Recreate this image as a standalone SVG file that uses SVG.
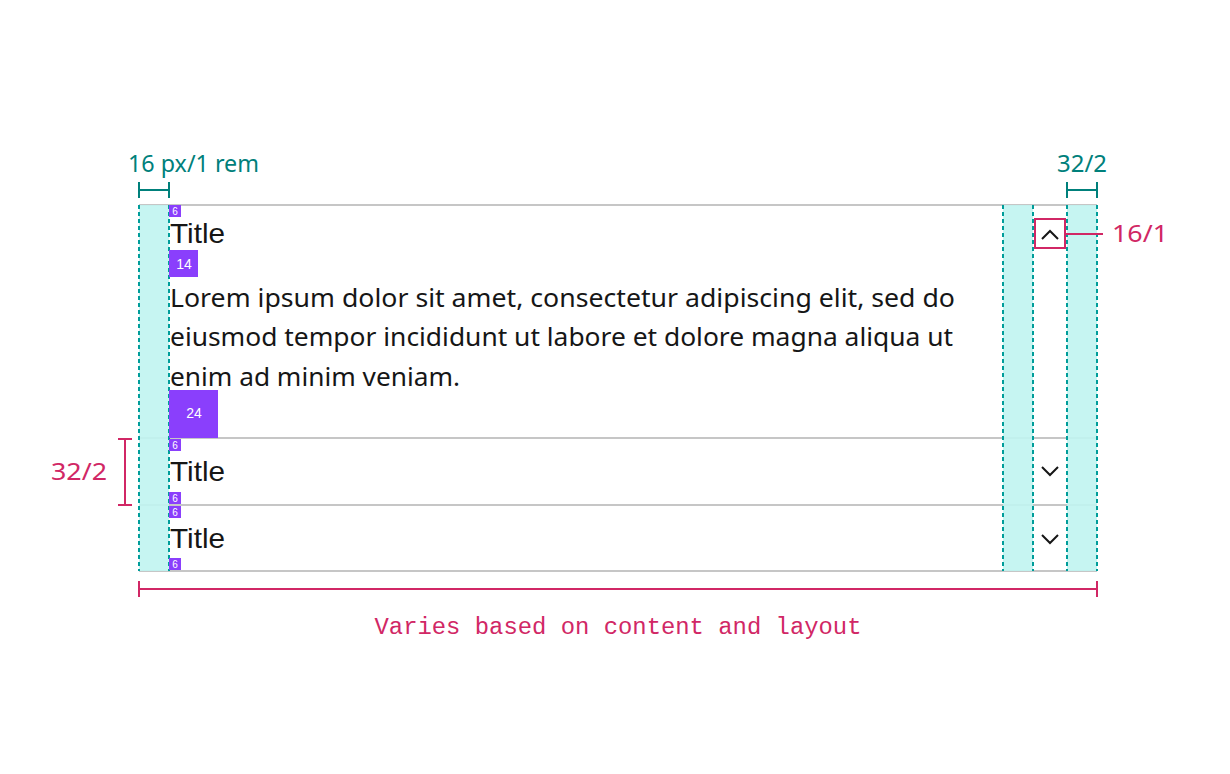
<svg xmlns="http://www.w3.org/2000/svg" width="1230" height="774" viewBox="0 0 1230 774">
<style>
.row{stroke:#c6c6c6;stroke-width:2}
.col{fill:#c0f4f1}
.dash{stroke:#009d9a;stroke-width:2;stroke-dasharray:4 3}
.teal{stroke:#00807b;stroke-width:2;fill:none}
.mag{stroke:#d12765;stroke-width:2;fill:none}
.tt{font-family:"Noto Sans","Liberation Sans",sans-serif;font-size:23px}
.body{font-family:"Noto Sans","Liberation Sans",sans-serif;font-size:26px;fill:#161616}
.title{font-family:"Liberation Sans",Arial,sans-serif;font-size:28px;fill:#161616}
.sp{fill:#8a3ffc}
.spt{font-family:"Liberation Sans",Arial,sans-serif;fill:#fff;text-anchor:middle}
.chev{stroke:#161616;stroke-width:2;fill:none}
</style>
<rect width="1230" height="774" fill="#fff"/>
<g id="rows">
<line class="row" x1="139" y1="205" x2="1097" y2="205"/>
<line class="row" x1="139" y1="438" x2="1097" y2="438"/>
<line class="row" x1="139" y1="505" x2="1097" y2="505"/>
<line class="row" x1="139" y1="571" x2="1097" y2="571"/>
</g>
<g id="columns">
<rect class="col" x="139" y="205" width="30" height="366" opacity="0.9"/>
<rect class="col" x="1003" y="205" width="30" height="366" opacity="0.9"/>
<rect class="col" x="1067" y="205" width="30" height="366" opacity="0.9"/>
<line class="dash" x1="139" y1="205" x2="139" y2="571"/>
<line class="dash" x1="169" y1="205" x2="169" y2="571"/>
<line class="dash" x1="1003" y1="205" x2="1003" y2="571"/>
<line class="dash" x1="1033" y1="205" x2="1033" y2="571"/>
<line class="dash" x1="1067" y1="205" x2="1067" y2="571"/>
<line class="dash" x1="1097" y1="205" x2="1097" y2="571"/>
</g>
<g id="item1">
<rect class="sp" x="169" y="205" width="12" height="12"/>
<text class="spt" x="175" y="214.5" font-size="10">6</text>
<text class="title" x="170" y="243" textLength="55" lengthAdjust="spacingAndGlyphs">Title</text>
<rect class="sp" x="169" y="250" width="29" height="27"/>
<text class="spt" x="184" y="269" font-size="14">14</text>
<text class="body" x="170" y="307" textLength="785" lengthAdjust="spacingAndGlyphs">Lorem ipsum dolor sit amet, consectetur adipiscing elit, sed do</text>
<text class="body" x="170" y="346" textLength="783" lengthAdjust="spacingAndGlyphs">eiusmod tempor incididunt ut labore et dolore magna aliqua ut</text>
<text class="body" x="170" y="386" textLength="290" lengthAdjust="spacingAndGlyphs">enim ad minim veniam.</text>
<rect class="sp" x="169" y="390" width="49" height="48"/>
<text class="spt" x="194" y="418" font-size="14">24</text>
<rect x="1035" y="219" width="30" height="29" class="mag"/>
<polyline class="chev" points="1042,239 1050,231 1058,239"/>
</g>
<g id="item2">
<rect class="sp" x="169" y="439" width="12" height="12"/>
<text class="spt" x="175" y="448.5" font-size="10">6</text>
<text class="title" x="170" y="481" textLength="55" lengthAdjust="spacingAndGlyphs">Title</text>
<rect class="sp" x="169" y="492" width="12" height="12"/>
<text class="spt" x="175" y="501.5" font-size="10">6</text>
<polyline class="chev" points="1042,467 1050,475 1058,467"/>
</g>
<g id="item3">
<rect class="sp" x="169" y="506" width="12" height="12"/>
<text class="spt" x="175" y="515.5" font-size="10">6</text>
<text class="title" x="170" y="548" textLength="55" lengthAdjust="spacingAndGlyphs">Title</text>
<rect class="sp" x="169" y="558" width="12" height="12"/>
<text class="spt" x="175" y="567.5" font-size="10">6</text>
<polyline class="chev" points="1042,535 1050,543 1058,535"/>
</g>
<g id="annotations">
<path class="teal" d="M139 182V198M139 190H169M169 182V198"/>
<text class="tt" x="128" y="172" fill="#00807b" textLength="131" lengthAdjust="spacingAndGlyphs">16 px/1 rem</text>
<path class="teal" d="M1067 182V198M1067 190H1097M1097 182V198"/>
<text class="tt" x="1057" y="172" fill="#00807b" textLength="50" lengthAdjust="spacingAndGlyphs">32/2</text>
<path class="mag" d="M1065 234H1103"/>
<text class="tt" x="1112" y="242" fill="#d12765" textLength="56" lengthAdjust="spacingAndGlyphs">16/1</text>
<path class="mag" d="M118 439H132M125 439V505M118 505H132"/>
<text class="tt" x="51" y="480" fill="#d12765" textLength="56" lengthAdjust="spacingAndGlyphs">32/2</text>
<path class="mag" d="M139 581V597M139 589H1097M1097 581V597"/>
<text x="618" y="634" fill="#d12765" font-family="'Liberation Mono','DejaVu Sans Mono',monospace" font-size="23" text-anchor="middle" textLength="487" lengthAdjust="spacingAndGlyphs">Varies based on content and layout</text>
</g>
</svg>
